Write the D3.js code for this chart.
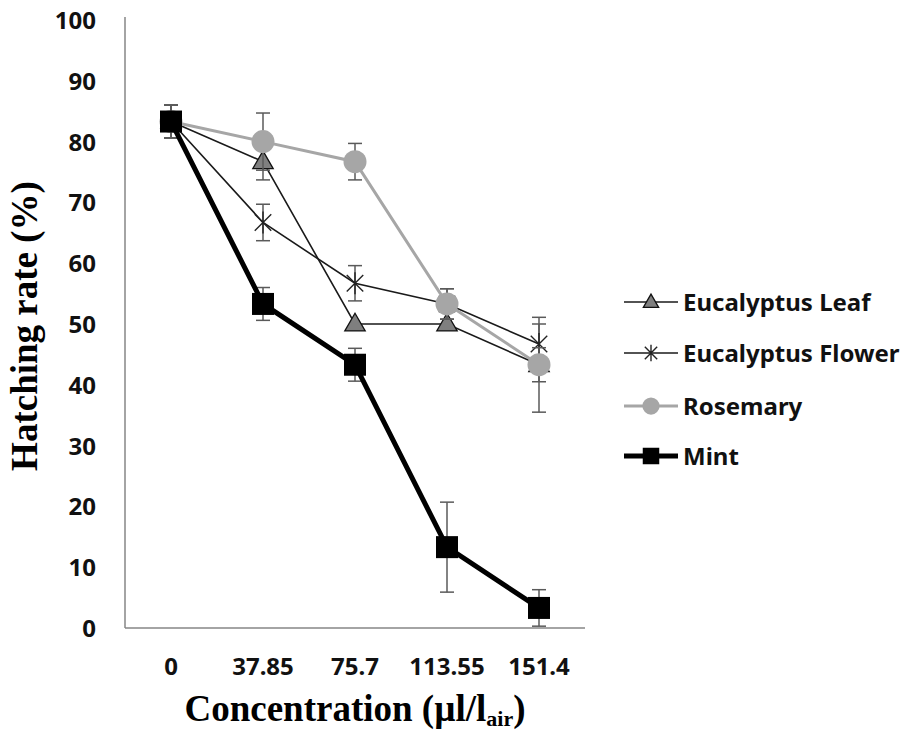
<!DOCTYPE html>
<html>
<head>
<meta charset="utf-8">
<script src="https://cdn.jsdelivr.net/npm/d3@7"></script>
<style>
  body { margin: 0; background: #fff; }
  svg { display: block; }
</style>
</head>
<body>
<svg id="chart" width="906" height="733"></svg>
<script>
// data
const concentrations = ['0', '37.85', '75.7', '113.55', '151.4'];
const yTicks = [0, 10, 20, 30, 40, 50, 60, 70, 80, 90, 100];

const leafValues = [83.3, 76.7, 50, 50, 43.3];
const leafErrors = [2.7, 3, 0, 0, 7.8];
const flowerValues = [83.3, 66.7, 56.7, 53.3, 46.7];
const flowerErrors = [2.7, 3, 2.9, 2.5, 3.3];
const rosemaryValues = [83.3, 80, 76.7, 53.3, 43.3];
const rosemaryErrors = [2.7, 4.7, 3, 2.5, 2.8];
const mintValues = [83.3, 53.3, 43.3, 13.3, 3.3];
const mintErrors = [2.7, 2.7, 2.7, 7.4, 3];

const seriesNames = ['Eucalyptus Leaf', 'Eucalyptus Flower', 'Rosemary', 'Mint'];

const series = [
    { name: seriesNames[0], values: leafValues, errors: leafErrors, line: '#1a1a1a', width: 1.6, marker: 'triangle' },
    { name: seriesNames[1], values: flowerValues, errors: flowerErrors, line: '#1a1a1a', width: 1.6, marker: 'star' },
    { name: seriesNames[2], values: rosemaryValues, errors: rosemaryErrors, line: '#a6a6a6', width: 3, marker: 'circle' },
    { name: seriesNames[3], values: mintValues, errors: mintErrors, line: '#000', width: 5, marker: 'square' }
];

const svg = d3.select('#chart');
const plotLeft = 125, plotRight = 585, plotTop = 20, plotBottom = 628;

const x = d3.scalePoint().domain(concentrations).range([plotLeft, plotRight]).padding(0.5);
const y = d3.scaleLinear().domain([0, 100]).range([plotBottom, plotTop]);

// axis lines
svg.append('line')
    .attr('x1', plotLeft).attr('x2', plotLeft)
    .attr('y1', 17).attr('y2', plotBottom)
    .attr('stroke', '#868686').attr('stroke-width', 1.5);
svg.append('line')
    .attr('x1', plotLeft).attr('x2', plotRight)
    .attr('y1', plotBottom).attr('y2', plotBottom)
    .attr('stroke', '#868686').attr('stroke-width', 1.5);

// tick labels
svg.append('g').selectAll('text')
    .data(yTicks)
    .enter().append('text')
    .attr('x', 96)
    .attr('y', d => y(d) + 9)
    .attr('text-anchor', 'end')
    .attr('font-family', 'Noto Sans, sans-serif')
    .attr('font-weight', 'bold')
    .attr('font-size', '24px')
    .attr('fill', '#111')
    .text(d => d);

svg.append('g').selectAll('text')
    .data(concentrations)
    .enter().append('text')
    .attr('x', d => x(d))
    .attr('y', 675)
    .attr('text-anchor', 'middle')
    .attr('font-family', 'Noto Sans, sans-serif')
    .attr('font-weight', 'bold')
    .attr('font-size', '24px')
    .attr('fill', '#111')
    .text(d => d);

// axis titles
svg.append('text')
    .attr('transform', `translate(37, ${(plotTop + plotBottom) / 2 + 2}) rotate(-90)`)
    .attr('text-anchor', 'middle')
    .attr('font-family', 'Liberation Serif, Times New Roman, serif')
    .attr('font-weight', 'bold')
    .attr('font-size', '37px')
    .attr('fill', '#000')
    .text('Hatching rate (%)');

const xTitle = svg.append('text')
    .attr('x', (plotLeft + plotRight) / 2)
    .attr('y', 721)
    .attr('text-anchor', 'middle')
    .attr('font-family', 'Liberation Serif, Times New Roman, serif')
    .attr('font-weight', 'bold')
    .attr('font-size', '37px')
    .attr('fill', '#000');
xTitle.append('tspan').text('Concentration (µl/l');
xTitle.append('tspan').attr('font-size', '22px').attr('dy', 5).text('air');
xTitle.append('tspan').attr('dy', -5).text(')');

// marker drawing
function drawMarker(g, type, cx, cy, scale) {
    const s = scale || 1;
    if (type === 'triangle') {
        g.append('path')
            .attr('d', d3.symbol().type(d3.symbolTriangle).size(180 * s * s)())
            .attr('transform', `translate(${cx},${cy + 1})`)
            .attr('fill', '#7f7f7f').attr('stroke', '#111').attr('stroke-width', 1.3);
    } else if (type === 'star') {
        const r = 11 * s;
        const d = r * 0.75;
        g.append('path')
            .attr('d', `M${cx - d},${cy - d}L${cx + d},${cy + d}M${cx - d},${cy + d}L${cx + d},${cy - d}M${cx},${cy - r}L${cx},${cy + r}`)
            .attr('stroke', '#222').attr('stroke-width', 1.4).attr('fill', 'none');
    } else if (type === 'circle') {
        g.append('circle')
            .attr('cx', cx).attr('cy', cy).attr('r', 11.5 * s)
            .attr('fill', '#a6a6a6');
    } else if (type === 'square') {
        const h = 11 * s;
        g.append('rect')
            .attr('x', cx - h).attr('y', cy - h)
            .attr('width', 2 * h).attr('height', 2 * h)
            .attr('fill', '#000');
    }
}

const line = d3.line()
    .x((d, i) => x(concentrations[i]))
    .y(d => y(d));

series.forEach(s => {
    const g = svg.append('g');
    // error bars
    s.values.forEach((v, i) => {
        const e = s.errors[i];
        if (!e) return;
        const cx = x(concentrations[i]);
        g.append('line')
            .attr('x1', cx).attr('x2', cx)
            .attr('y1', y(v + e)).attr('y2', y(Math.max(0, v - e)))
            .attr('stroke', '#5a5a5a').attr('stroke-width', 1.5);
        [v + e, Math.max(0, v - e)].forEach(t => {
            g.append('line')
                .attr('x1', cx - 7).attr('x2', cx + 7)
                .attr('y1', y(t)).attr('y2', y(t))
                .attr('stroke', '#5a5a5a').attr('stroke-width', 1.5);
        });
    });
    g.append('path')
        .attr('d', line(s.values))
        .attr('fill', 'none')
        .attr('stroke', s.line)
        .attr('stroke-width', s.width);
    s.values.forEach((v, i) => drawMarker(g, s.marker, x(concentrations[i]), y(v)));
});

// legend
const legend = svg.append('g');
const legendY = [302, 353, 406, 456];
series.forEach((s, i) => {
    const g = legend.append('g');
    const ly = legendY[i];
    g.append('line')
        .attr('x1', 624).attr('x2', 678)
        .attr('y1', ly).attr('y2', ly)
        .attr('stroke', s.line)
        .attr('stroke-width', s.width);
    drawMarker(g, s.marker, 651, ly, 0.75);
    g.append('text')
        .attr('x', 683)
        .attr('y', ly + 9)
        .attr('font-family', 'Noto Sans, sans-serif')
        .attr('font-weight', 'bold')
        .attr('font-size', '24px')
        .attr('fill', '#111')
        .text(s.name);
});
</script>
</body>
</html>
